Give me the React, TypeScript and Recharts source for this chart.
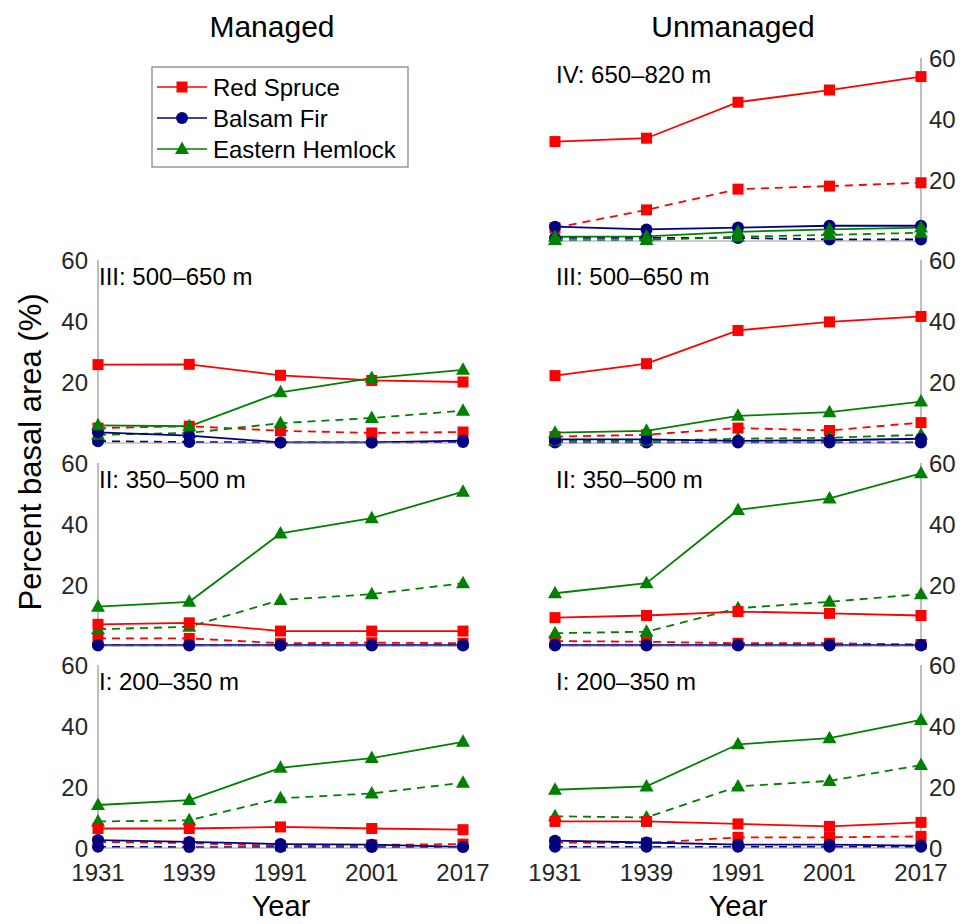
import React from "react";
import { LineChart, Line, XAxis, YAxis } from "recharts";

const years = ["1931", "1939", "1991", "2001", "2017"];
const upperTicks = [20, 40, 60];
const bottomTicks = [0, 20, 40, 60];

// solid = full line, D = dashed line, per elevation zone
const managedIII = {
  spruce: [25.7, 25.8, 22.2, 20.5, 20],
  spruceD: [4.9, 5.5, 4.0, 3.3, 3.6],
  fir: [3.5, 2.4, 0.2, 0.2, 0.8],
  firD: [0.6, 0.3, 0.2, 0.2, 0.3],
  hemlock: [5.8, 5.5, 16.6, 21.3, 24],
  hemlockD: [2.7, 3.3, 6.5, 8.2, 10.6],
};
const managedII = {
  spruce: [7.1, 7.6, 4.9, 4.9, 4.9],
  spruceD: [2.5, 2.5, 0.9, 1.1, 0.9],
  fir: [0.3, 0.3, 0.3, 0.3, 0.3],
  firD: [0.2, 0.2, 0.2, 0.2, 0.2],
  hemlock: [12.9, 14.5, 36.9, 41.9, 50.6],
  hemlockD: [5.5, 6.3, 15.1, 17, 20.6],
};
const managedI = {
  spruce: [6.4, 6.4, 6.9, 6.4, 6.0],
  spruceD: [2.0, 1.6, 0.7, 1.0, 1.3],
  fir: [2.6, 2.0, 1.3, 1.1, 0.4],
  firD: [0.4, 0.3, 0.3, 0.3, 0.3],
  hemlock: [14.1, 15.7, 26.3, 29.5, 34.8],
  hemlockD: [8.7, 9.1, 16.3, 17.9, 21.4],
};
const unmanagedIV = {
  spruce: [32.6, 33.7, 45.5, 49.5, 53.9],
  spruceD: [4.3, 10.2, 17, 18, 19.1],
  fir: [4.7, 3.8, 4.4, 5.0, 5.0],
  firD: [1.0, 1.0, 1.0, 0.5, 0.5],
  hemlock: [1.4, 1.5, 3.0, 3.8, 4.4],
  hemlockD: [0.3, 0.3, 1.4, 2.0, 2.7],
};
const unmanagedIII = {
  spruce: [22.1, 26, 36.9, 39.7, 41.5],
  spruceD: [2.1, 2.7, 4.9, 4.1, 6.7],
  fir: [1.2, 1.2, 0.7, 0.9, 1.4],
  firD: [0.2, 0.2, 0.2, 0.2, 0.2],
  hemlock: [3.4, 4.0, 8.9, 10.1, 13.6],
  hemlockD: [0.7, 0.7, 1.4, 1.7, 2.7],
};
const unmanagedII = {
  spruce: [9.3, 10, 11.3, 10.7, 10],
  spruceD: [1.6, 1.4, 0.9, 0.9, 0.5],
  fir: [0.3, 0.3, 0.3, 0.3, 0.3],
  firD: [0.2, 0.2, 0.2, 0.2, 0.2],
  hemlock: [17.3, 20.6, 44.6, 48.4, 56.6],
  hemlockD: [4.2, 4.7, 12.4, 14.5, 17],
};
const unmanagedI = {
  spruce: [8.7, 8.7, 7.9, 7.1, 8.4],
  spruceD: [1.8, 1.6, 3.5, 3.5, 3.8],
  fir: [2.4, 1.8, 1.1, 1.1, 0.8],
  firD: [0.4, 0.4, 0.4, 0.4, 0.4],
  hemlock: [19.1, 20.2, 34, 36, 42],
  hemlockD: [10.4, 10, 20.2, 22, 27.2],
};

const FONT = '"Liberation Sans", Arial, sans-serif';
const RED = "#ff0000";
const BLUE = "#000080";
const GREEN = "#008000";
const PLOT_H = 183;

const series = [
  { key: "spruceD", color: RED, shape: "square", dash: "8 6" },
  { key: "firD", color: BLUE, shape: "circle", dash: "8 6" },
  { key: "hemlockD", color: GREEN, shape: "triangle", dash: "8 6" },
  { key: "spruce", color: RED, shape: "square", dash: undefined },
  { key: "fir", color: BLUE, shape: "circle", dash: undefined },
  { key: "hemlock", color: GREEN, shape: "triangle", dash: undefined },
];

function Marker({ shape, color, cx, cy }: any) {
  if (shape === "square")
    return <rect x={cx - 5.5} y={cy - 5.5} width={11} height={11} fill={color} />;
  if (shape === "circle") return <circle cx={cx} cy={cy} r={6} fill={color} />;
  return (
    <path
      d={`M${cx},${cy - 7.5}L${cx + 7},${cy + 5}L${cx - 7},${cy + 5}Z`}
      fill={color}
    />
  );
}

function Panel({ side, top, values, bottom }: any) {
  const data = years.map((year, i) => ({
    year,
    spruce: values.spruce[i],
    spruceD: values.spruceD[i],
    fir: values.fir[i],
    firD: values.firD[i],
    hemlock: values.hemlock[i],
    hemlockD: values.hemlockD[i],
  }));
  const left = side === "left";
  const xh = bottom ? 40 : 1;
  const mb = bottom ? 0 : 8;
  const tickStyle = { fontSize: 24, fill: "#262626", fontFamily: FONT };
  return (
    <div style={{ position: "absolute", left: left ? 0 : 480, top: top - 20 }}>
      <LineChart
        width={left ? 500 : 480}
        height={20 + PLOT_H + xh + mb}
        data={data}
        margin={left ? { top: 20, right: 37, bottom: mb, left: 0 } : { top: 20, right: 0, bottom: mb, left: 75 }}
      >
        <XAxis
          dataKey="year"
          interval={0}
          height={xh}
          tick={bottom ? tickStyle : false}
          tickLine={false}
          tickSize={0}
          tickMargin={16}
          axisLine={{ stroke: "#9a9a9a" }}
        />
        <YAxis
          orientation={left ? "left" : "right"}
          width={left ? 98 : 39}
          domain={[0, 60]}
          ticks={bottom ? bottomTicks : upperTicks}
          interval={0}
          tick={tickStyle}
          tickLine={false}
          tickSize={0}
          tickMargin={left ? 10 : 8}
          axisLine={{ stroke: "#7f7f7f" }}
        />
        {series.map((s) => (
          <Line
            key={s.key}
            dataKey={s.key}
            type="linear"
            stroke={s.color}
            strokeWidth={1.8}
            strokeDasharray={s.dash}
            isAnimationActive={false}
            activeDot={false}
            dot={(p: any) => (
              <Marker key={`${s.key}-${p.index}`} shape={s.shape} color={s.color} cx={p.cx} cy={p.cy} />
            )}
          />
        ))}
      </LineChart>
    </div>
  );
}

const panels = [
  { side: "right", top: 58, values: unmanagedIV, label: "IV: 650\u2013820 m" },
  { side: "left", top: 260, values: managedIII, label: "III: 500\u2013650 m" },
  { side: "right", top: 260, values: unmanagedIII, label: "III: 500\u2013650 m" },
  { side: "left", top: 463, values: managedII, label: "II: 350\u2013500 m" },
  { side: "right", top: 463, values: unmanagedII, label: "II: 350\u2013500 m" },
  { side: "left", top: 665, values: managedI, label: "I: 200\u2013350 m", bottom: true },
  { side: "right", top: 665, values: unmanagedI, label: "I: 200\u2013350 m", bottom: true },
];

const legendItems = [
  { name: "Red Spruce", color: RED, shape: "square" },
  { name: "Balsam Fir", color: BLUE, shape: "circle" },
  { name: "Eastern Hemlock", color: GREEN, shape: "triangle" },
];

export default function App() {
  return (
    <div
      style={{
        position: "absolute",
        left: 0,
        top: 0,
        width: 960,
        height: 924,
        background: "#fff",
        fontFamily: FONT,
        overflow: "hidden",
      }}
    >
      {panels.map((p, i) => (
        <Panel key={i} side={p.side} top={p.top} values={p.values} bottom={p.bottom} />
      ))}
      <svg
        width={960}
        height={924}
        style={{ position: "absolute", left: 0, top: 0, pointerEvents: "none" }}
        fontFamily={FONT}
      >
        <text x={272} y={37} fontSize={30} textAnchor="middle" fill="#000">Managed</text>
        <text x={733} y={37} fontSize={30} textAnchor="middle" fill="#000">Unmanaged</text>
        <text x={281} y={916} fontSize={29} textAnchor="middle" fill="#000">Year</text>
        <text x={738} y={916} fontSize={29} textAnchor="middle" fill="#000">Year</text>
        <text
          x={41}
          y={452}
          fontSize={31}
          textAnchor="middle"
          fill="#000"
          transform="rotate(-90 41 452)"
        >
          Percent basal area (%)
        </text>
        {panels.map((p, i) => (
          <text key={i} x={p.side === "left" ? 99 : 556} y={p.top + 25} fontSize={24} fill="#000">
            {p.label}
          </text>
        ))}
        <rect x={152} y={67} width={256} height={100} fill="#fff" stroke="#7f7f7f" strokeWidth={1.2} />
        {legendItems.map((it, i) => {
          const cy = 87 + i * 31;
          return (
            <g key={it.name}>
              <line x1={157} x2={207} y1={cy} y2={cy} stroke={it.color} strokeWidth={1.6} />
              <Marker shape={it.shape} color={it.color} cx={182} cy={cy} />
              <text x={213} y={cy + 8.5} fontSize={24} fill="#000">{it.name}</text>
            </g>
          );
        })}
      </svg>
    </div>
  );
}
